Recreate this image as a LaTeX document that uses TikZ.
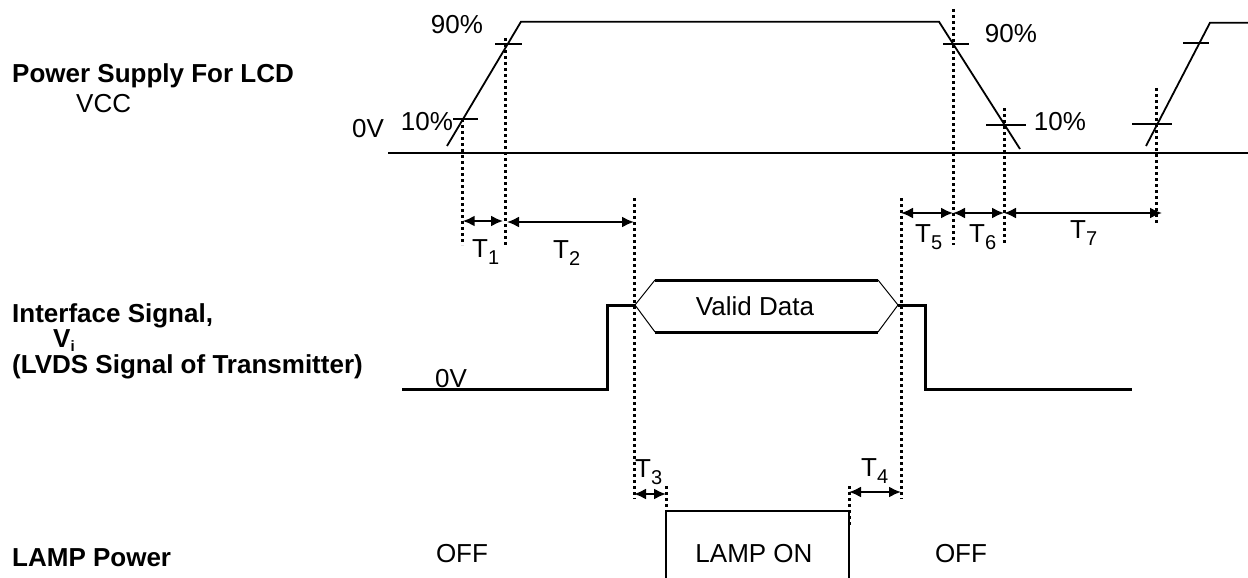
\documentclass[tikz,border=0pt]{standalone}
\usepackage{fontspec}
\setmainfont{Liberation Sans}
\usetikzlibrary{arrows.meta}
\newcommand\tsb[1]{T\raisebox{-7pt}{\fontsize{20}{20}\selectfont #1}}
\begin{document}
\begin{tikzpicture}[x=1pt,y=-1pt,
  txt/.style={inner sep=0pt,font=\fontsize{26}{30}\selectfont},
  btxt/.style={inner sep=0pt,font=\fontsize{26}{30}\selectfont\bfseries},
  wave/.style={line width=1.8pt},
  iface/.style={line width=3pt},
  thin/.style={line width=1pt},
  tick/.style={line width=1.6pt},
  dots/.style={line width=3pt,dash pattern=on 3pt off 3pt},
  dim/.style={line width=2pt,{Latex[length=12pt,width=11pt]}-{Latex[length=12pt,width=11pt]}},
  lamp/.style={line width=1.6pt}]
\useasboundingbox (0,0) rectangle (1248,578);

% ---- left labels
\node[btxt,anchor=base west] (lps) at (12,82) {Power Supply For LCD};
\node[txt,anchor=base west] (lvcc) at (76,112) {VCC};
\node[btxt,anchor=base west] (lis) at (12,322) {Interface Signal,};
\node[btxt,anchor=base west] (lvi) at (53,347) {V\raisebox{-4pt}{\fontsize{15}{15}\selectfont i}};
\node[btxt,anchor=base west] (llv) at (12,373) {(LVDS Signal of Transmitter)};
\node[btxt,anchor=base west] (llp) at (12,566) {LAMP Power};

% ---- power supply waveform
\coordinate (b0) at (388,152.7); \coordinate (b1) at (1248,152.7);
\draw[wave] (b0) -- (b1);
\coordinate (r1a) at (447,146); \coordinate (r1b) at (521,21.7);
\coordinate (f1a) at (939,21.7); \coordinate (f1b) at (1020,149);
\draw[wave] (r1a) -- (r1b) -- (f1a) -- (f1b);
\coordinate (r2a) at (1146,146); \coordinate (r2b) at (1210,22.7); \coordinate (r2c) at (1248,22.7);
\draw[wave] (r2a) -- (r2b) -- (r2c);
% ticks
\coordinate (k1a) at (495,44); \coordinate (k1b) at (522,44);
\coordinate (k2a) at (453,119); \coordinate (k2b) at (478,119);
\coordinate (k3a) at (943,44); \coordinate (k3b) at (969,44);
\coordinate (k4a) at (986,125); \coordinate (k4b) at (1026,125);
\coordinate (k5a) at (1183,43); \coordinate (k5b) at (1209,43);
\coordinate (k6a) at (1132,124); \coordinate (k6b) at (1172,124);
\foreach \k in {1,...,6} {\draw[tick] (k\k a) -- (k\k b);}

\node[txt,anchor=base] (p90a) at (457,34) {90\%};
\node[txt,anchor=base] (p10a) at (427,130) {10\%};
\node[txt,anchor=base] (p0v) at (368,137) {0V};
\node[txt,anchor=base] (p90b) at (1011,43) {90\%};
\node[txt,anchor=base] (p10b) at (1060,130) {10\%};

% ---- dotted verticals
\coordinate (d1a) at (462.7,119); \coordinate (d1b) at (462.7,245);
\coordinate (d2a) at (505.7,38); \coordinate (d2b) at (505.7,245);
\coordinate (d3a) at (634,198); \coordinate (d3b) at (634,499);
\coordinate (d4a) at (901,198); \coordinate (d4b) at (901,499);
\coordinate (d5a) at (953,9); \coordinate (d5b) at (953,245);
\coordinate (d6a) at (1004,108); \coordinate (d6b) at (1004,245);
\coordinate (d7a) at (1156,88); \coordinate (d7b) at (1156,225);
\coordinate (d8a) at (666,486); \coordinate (d8b) at (666,510);
\coordinate (d9a) at (849,486); \coordinate (d9b) at (849,527);
\foreach \d in {1,...,9} {\draw[dots] (d\d a) -- (d\d b);}

% ---- timing arrows
\coordinate (t1a) at (462.7,221); \coordinate (t1b) at (503,221);
\coordinate (t2a) at (507,222); \coordinate (t2b) at (634,222);
\coordinate (t5a) at (901,213); \coordinate (t5b) at (953,213);
\coordinate (t6a) at (953,213); \coordinate (t6b) at (1004,213);
\coordinate (t7a) at (1004,213); \coordinate (t7b) at (1162,213);
\coordinate (t3a) at (634,494); \coordinate (t3b) at (666,494);
\coordinate (t4a) at (849,492); \coordinate (t4b) at (901,492);
\foreach \t in {1,2,3,4,5,6,7} {\draw[dim] (t\t a) -- (t\t b);}

\node[txt,anchor=base west] (lt1) at (472,257) {\tsb{1}};
\node[txt,anchor=base west] (lt2) at (553,258) {\tsb{2}};
\node[txt,anchor=base west] (lt5) at (915,242) {\tsb{5}};
\node[txt,anchor=base west] (lt6) at (969,242) {\tsb{6}};
\node[txt,anchor=base west] (lt7) at (1070,238) {\tsb{7}};
\node[txt,anchor=base west] (lt3) at (635,477) {\tsb{3}};
\node[txt,anchor=base west] (lt4) at (861,476) {\tsb{4}};

% ---- interface signal
\coordinate (i0) at (402,389); \coordinate (i1) at (607,389);
\coordinate (i2) at (607,305); \coordinate (hl) at (635,305);
\coordinate (hul) at (655,280); \coordinate (hur) at (878,280);
\coordinate (hll) at (655,332); \coordinate (hlr) at (878,332);
\coordinate (hr) at (898,305); \coordinate (i3) at (925,305);
\coordinate (i4) at (925,389); \coordinate (i5) at (1132,389);
\draw[iface] (i0) -- (i1) -- (i2) -- (hl);
\draw[iface] (hr) -- (i3) -- (i4) -- (i5);
\draw[thin] (hul) -- (hl) -- (hll);
\draw[thin] (hur) -- (hr) -- (hlr);
\draw[iface] (hul) -- (hur);
\draw[iface] (hll) -- (hlr);
\node[txt,anchor=base] (vd) at (755,315) {Valid Data};
\node[txt,anchor=base] (i0v) at (451,387) {0V};

% ---- lamp power
\coordinate (l0) at (666,578); \coordinate (l1) at (666,511);
\coordinate (l2) at (849,511); \coordinate (l3) at (849,578);
\draw[lamp] (l0) -- (l1) -- (l2) -- (l3);
\node[txt,anchor=base] (lon) at (754,562) {LAMP ON};
\node[txt,anchor=base] (off1) at (462,562) {OFF};
\node[txt,anchor=base] (off2) at (961,562) {OFF};
\end{tikzpicture}
\end{document}
